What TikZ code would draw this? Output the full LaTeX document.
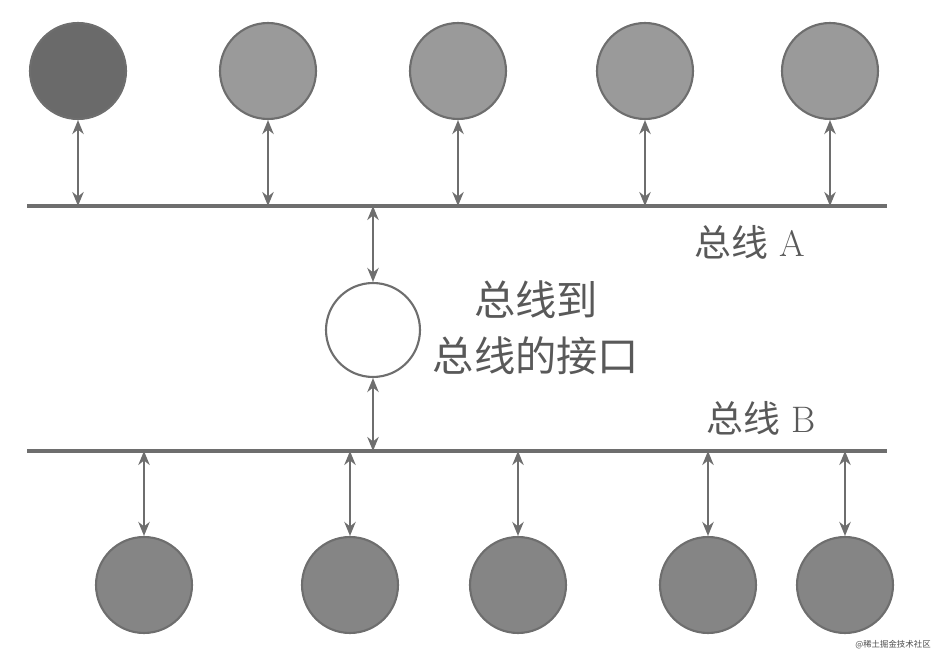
\documentclass[tikz,border=0pt]{standalone}
\usepackage{fontspec}
\newfontfamily\cjk{Noto Sans CJK SC}
\usetikzlibrary{arrows.meta}

\definecolor{busgray}{HTML}{6E6E6E}
\definecolor{darkdev}{HTML}{6A6A6A}
\definecolor{litedev}{HTML}{9A9A9A}
\definecolor{lowdev}{HTML}{858585}

\tikzset{
  device/.style={circle, draw=busgray, line width=1.2pt, minimum size=1.92cm, inner sep=0pt},
  busline/.style={busgray, line width=2.6pt},
  link/.style={{Stealth[length=8pt,width=6.5pt]}-{Stealth[length=8pt,width=6.5pt]}, busgray, line width=1.1pt},
  buslabel/.style={font=\fontsize{21}{24}\selectfont, text=black!65},
}

\begin{document}
\begin{tikzpicture}[x=0.02cm, y=-0.02cm]
	\useasboundingbox (0,0) rectangle (938,662);

	% the two buses
	\coordinate (busAl) at (27,206);
	\coordinate (busAr) at (887,206);
	\coordinate (busBl) at (27,451);
	\coordinate (busBr) at (887,451);
	\draw[busline] (busAl) -- (busAr);
	\draw[busline] (busBl) -- (busBr);
	\node[buslabel] (labA) at (750,242) {{\cjk 总线}\ A};
	\node[buslabel] (labB) at (761,418) {{\cjk 总线}\ B};

	% devices on bus A
	\foreach \i/\x/\c in {1/78/darkdev, 2/268/litedev, 3/458/litedev, 4/645/litedev, 5/830/litedev} {
		\node[device, fill=\c] (t\i) at (\x,71) {};
		\draw[link] (t\i) -- (t\i |- busAl);
	}

	% devices on bus B
	\foreach \i/\x in {1/144, 2/350, 3/518, 4/708, 5/845} {
		\node[device, fill=lowdev] (b\i) at (\x,585) {};
		\draw[link] (b\i) -- (b\i |- busBl);
	}

	% bus-to-bus interface
	\node[device, fill=white, minimum size=1.88cm] (iface) at (373,330) {};
	\draw[link] (iface) -- (iface |- busAl);
	\draw[link] (iface) -- (iface |- busBl);
	\node[font=\cjk\fontsize{23.5}{26}\selectfont, text=black!65, align=center] (ifacetxt) at (536,328) {总线到\\[6pt]总线的接口};

	\node[font=\cjk\fontsize{4.8}{6}\selectfont, text=black!70] (mark) at (893,645) {@稀土掘金技术社区};
\end{tikzpicture}
\end{document}
